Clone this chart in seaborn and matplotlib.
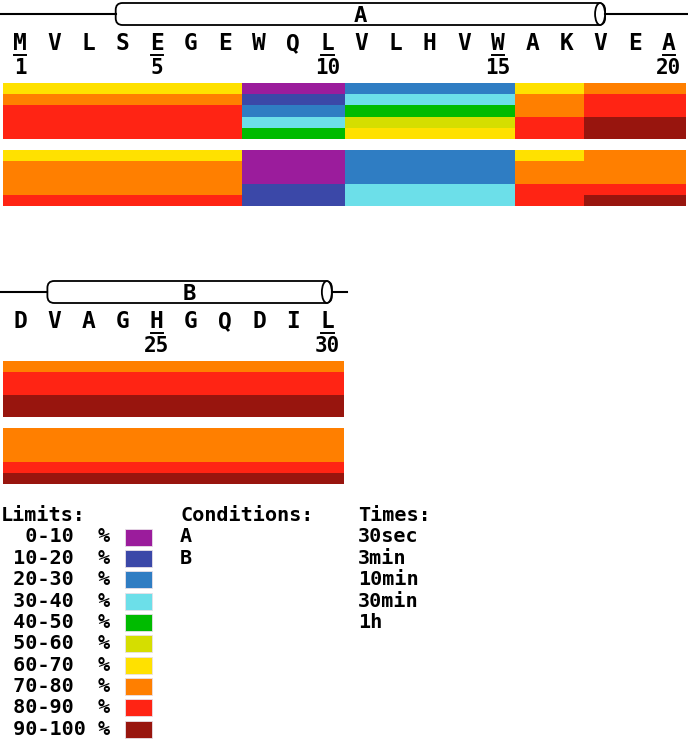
import numpy as np
import pandas as pd
import matplotlib
matplotlib.use("Agg")
import matplotlib.pyplot as plt
from matplotlib.colors import ListedColormap
from matplotlib.patches import FancyBboxPatch, Ellipse, Rectangle
import seaborn as sns

# -----------------------------
# DATA
# -----------------------------
SEQUENCE = "MVLSEGEWQLVLHVWAKVEADVAGHGQDIL"

PEP_START = [1, 8, 11, 16, 18, 21]
PEP_END = [7, 10, 15, 17, 20, 30]

TIMES = ["30sec", "3min", "10min", "30min", "1h"]
CONDITIONS = ["A", "B"]

# % deuterium uptake per peptide, ordered like TIMES
UPTAKE_A = [
    [65, 75, 85, 85, 85],
    [5, 15, 25, 35, 45],
    [25, 35, 45, 55, 65],
    [65, 75, 75, 85, 85],
    [75, 85, 85, 95, 95],
    [75, 85, 85, 95, 95],
]
UPTAKE_B = [
    [65, 75, 75, 75, 85],
    [5, 5, 5, 15, 15],
    [25, 25, 25, 35, 35],
    [65, 75, 75, 85, 85],
    [75, 75, 75, 85, 95],
    [75, 75, 75, 85, 95],
]

HELIX_NAMES = ["A", "B"]
HELIX_START = [4, 22]
HELIX_END = [18, 30]

LIMITS = [0, 10, 20, 30, 40, 50, 60, 70, 80, 90, 100]
COLORS = ["#9b1c9c", "#3b48a8", "#2f7dc3", "#6cdfe9", "#00bb00",
          "#d5de00", "#ffe100", "#ff7f00", "#ff2414", "#98150e"]

ROWS = [(1, 20), (21, 30)]

# -----------------------------
# LAYOUT (pixels)
# -----------------------------
W, H = 688, 740
X0 = 3
CELL = 34.15
BLOCK_H = 56
BLOCK_GAP = 11
ROW_TOP = [83, 361]

plt.rcParams["font.family"] = "DejaVu Sans Mono"
plt.rcParams["font.weight"] = "bold"


def px_axes(fig, x0, y0, x1, y1, **kw):
    return fig.add_axes([x0 / W, 1 - y1 / H, (x1 - x0) / W, (y1 - y0) / H], **kw)


def residue_matrix(uptake):
    m = np.full((len(TIMES), len(SEQUENCE)), np.nan)
    for s, e, vals in zip(PEP_START, PEP_END, uptake):
        m[:, s - 1:e] = np.array(vals, dtype=float)[:, None]
    return pd.DataFrame(m, index=TIMES, columns=range(1, len(SEQUENCE) + 1))


mats = {"A": residue_matrix(UPTAKE_A), "B": residue_matrix(UPTAKE_B)}
cmap = ListedColormap(COLORS)

fig = plt.figure(figsize=(W / 100, H / 100), dpi=100)

# -----------------------------
# HEATMAP ROWS
# -----------------------------
for (first, last), top in zip(ROWS, ROW_TOP):
    n = last - first + 1
    x1 = X0 + n * CELL

    for k, cond in enumerate(CONDITIONS):
        y0 = top + k * (BLOCK_H + BLOCK_GAP)
        ax = px_axes(fig, X0, y0, x1, y0 + BLOCK_H)
        sub = mats[cond].loc[:, first:last]
        sns.heatmap(sub, ax=ax, cmap=cmap, vmin=0, vmax=100, cbar=False,
                    xticklabels=False, yticklabels=False)

    # sequence + secondary structure
    ax_s = px_axes(fig, X0, top - 83, x1, top)
    ax_s.set_xlim(0, n)
    ax_s.set_ylim(0, -83)
    ax_s.axis("off")

    for i in range(n):
        resnum = first + i
        xc = i + 0.5
        ax_s.text(xc, -39, SEQUENCE[resnum - 1], ha="center", va="center",
                  fontsize=16.5)
        if resnum == 1 or resnum % 5 == 0:
            ax_s.text(xc, -15, str(resnum), ha="center", va="center",
                      fontsize=15)
            ax_s.plot([xc - 0.18, xc + 0.18], [-28.5, -28.5], color="black",
                      lw=1.4)

    for name, hs, he in zip(HELIX_NAMES, HELIX_START, HELIX_END):
        if hs < first or he > last:
            continue
        left = hs - first + 0.5 - 0.2
        right = he - first + 0.5 + 0.13
        cy = -69
        ax_s.plot([-X0 / CELL, left], [cy, cy], color="black", lw=1.5,
                  clip_on=False)
        ax_s.plot([right, min(n + 0.06, (W - X0) / CELL)], [cy, cy],
                  color="black", lw=1.5, clip_on=False)
        body = FancyBboxPatch((left, cy - 11), right - left, 22,
                              boxstyle="round,pad=0,rounding_size=0.2",
                              mutation_aspect=CELL, facecolor="white",
                              edgecolor="black", lw=1.3, clip_on=False)
        ax_s.add_patch(body)
        ax_s.add_patch(Ellipse((right - 5 / CELL, cy), 10 / CELL, 22,
                               facecolor="white", edgecolor="black", lw=1.3,
                               clip_on=False))
        ax_s.text((left + right) / 2, cy + 1.5, name, ha="center",
                  va="center", fontsize=16)

# -----------------------------
# LEGEND
# -----------------------------
ax_l = fig.add_axes([0, 0, 1, 1], zorder=-1)
ax_l.set_xlim(0, W)
ax_l.set_ylim(H, 0)
ax_l.axis("off")

LEG_Y0 = 537
LEG_STEP = 21.35
FS = 14.5

ax_l.text(1, LEG_Y0 - LEG_STEP, "Limits:", ha="left", va="center", fontsize=FS)
for k, color in enumerate(COLORS):
    y = LEG_Y0 + k * LEG_STEP
    lab = f"{LIMITS[k]}-{LIMITS[k + 1]}"
    ax_l.text(1, y, (" " + f"{lab:>5}").ljust(8) + "%", ha="left",
              va="center", fontsize=FS)
    ax_l.add_patch(Rectangle((125, y - 8.5), 27, 17, facecolor=color,
                             edgecolor="#e8e0e8", lw=0.6))

ax_l.text(180, LEG_Y0 - LEG_STEP, "Conditions:", ha="left", va="center",
          fontsize=FS)
for k, cond in enumerate(CONDITIONS):
    ax_l.text(180, LEG_Y0 + k * LEG_STEP, cond, ha="left", va="center",
              fontsize=FS)

ax_l.text(358, LEG_Y0 - LEG_STEP, "Times:", ha="left", va="center", fontsize=FS)
for k, t in enumerate(TIMES):
    ax_l.text(358, LEG_Y0 + k * LEG_STEP, t, ha="left", va="center",
              fontsize=FS)

fig.savefig("out.png", dpi=100)
plt.close(fig)
